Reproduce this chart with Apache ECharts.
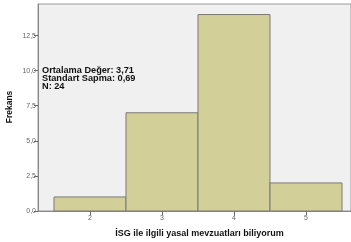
<!DOCTYPE html>
<html><head><meta charset="utf-8">
<script src="https://cdn.jsdelivr.net/npm/echarts@6/dist/echarts.min.js"></script>
<style>html,body{margin:0;padding:0;background:#fff}#c{width:351px;height:242px}</style>
</head><body><div id="c"></div>
<script>
var binCenters = [2, 3, 4, 5];
var frequencies = [1, 7, 14, 2];
var xTickValues = [2, 3, 4, 5];
var statLines = ['Ortalama Değer: 3,71', 'Standart Sapma: 0,69', 'N: 24'];
var xTitle = 'İSG ile ilgili yasal mevzuatları biliyorum';
var yTitle = 'Frekans';

var chart = echarts.init(document.getElementById('c'), null, {renderer: 'canvas'});
var data = binCenters.map(function (c, i) { return [c, frequencies[i]]; });
chart.setOption({
  animation: false,
  grid: {left: 38, top: 4, right: 0, bottom: 31, containLabel: false, outerBoundsMode: 'none',
    show: true, backgroundColor: '#f0f0f0', borderColor: '#9a9a9a', borderWidth: 1},
  xAxis: {
    type: 'value', min: 1.278, max: 5.625,
    name: xTitle, nameLocation: 'middle', nameGap: 18,
    nameTextStyle: {fontFamily: 'Liberation Sans', fontWeight: 'bold', fontSize: 9, color: '#111', padding: [0, 0, 0, 10]},
    splitLine: {show: false},
    axisLine: {lineStyle: {color: '#888'}},
    axisTick: {show: true, length: 4, customValues: xTickValues, lineStyle: {color: '#666'}},
    axisLabel: {customValues: xTickValues, fontSize: 7, color: '#666', margin: 4, fontFamily: 'Liberation Sans'}
  },
  yAxis: {
    type: 'value', min: 0, max: 14.75, interval: 2.5,
    splitLine: {show: false},
    axisLine: {show: true, lineStyle: {color: '#888'}},
    axisTick: {show: true, length: 4, lineStyle: {color: '#666'}},
    axisLabel: {showMaxLabel: false, fontSize: 7, color: '#666', margin: 2, fontFamily: 'Liberation Sans',
      formatter: function (v) { return v.toFixed(1).replace('.', ','); }}
  },
  series: [{
    type: 'custom',
    data: data,
    renderItem: function (params, api) {
      var c = api.value(0), v = api.value(1);
      var p1 = api.coord([c - 0.5, v]);
      var p2 = api.coord([c + 0.5, 0]);
      return {type: 'rect', shape: {x: p1[0], y: p1[1], width: p2[0] - p1[0], height: p2[1] - p1[1]},
        style: {fill: '#d3cf98', stroke: '#7a7a7a', lineWidth: 1}};
    },
    encode: {x: 0, y: 1}
  }],
  graphic: [{
    type: 'text', left: 42, top: 66,
    style: {text: statLines.join('\n'), fontFamily: 'Liberation Sans', fontWeight: 'bold', fontSize: 9.2, lineHeight: 8, fill: '#111'}
  }, {
    type: 'text', x: 10, y: 107, rotation: Math.PI / 2,
    style: {text: yTitle, fontFamily: 'Liberation Sans', fontWeight: 'bold', fontSize: 8.5, fill: '#111',
      align: 'center', verticalAlign: 'middle'}
  }]
});
</script></body></html>
